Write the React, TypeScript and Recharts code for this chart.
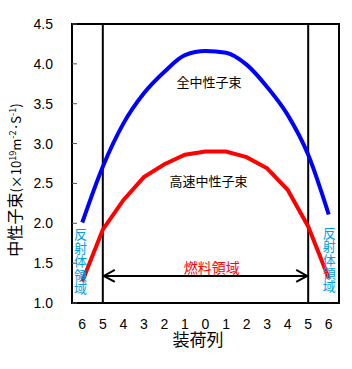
import React from "react";
import {
  LineChart,
  Line,
  XAxis,
  YAxis,
  ReferenceLine,
  ReferenceArea,
  ReferenceDot,
} from "recharts";

// loading rows, from reflector (6) through core centre (0) and back out
const positions = ["6", "5", "4", "3", "2", "1", "0", "1", "2", "3", "4", "5", "6"];
// total neutron flux (x10^19 m^-2 s^-1)
const totalFlux = [2.01, 2.71, 3.25, 3.63, 3.9, 4.11, 4.16, 4.14, 3.99, 3.71, 3.36, 2.86, 2.11];
// fast neutron flux
const fastFlux = [1.27, 1.92, 2.29, 2.58, 2.74, 2.86, 2.9, 2.9, 2.83, 2.69, 2.42, 1.96, 1.31];
const yTicks = [1.0, 1.5, 2.0, 2.5, 3.0, 3.5, 4.0, 4.5];

const data = positions.map((p, i) => ({
  idx: i,
  label: p,
  total: totalFlux[i],
  fast: fastFlux[i],
}));

const JP = "'Noto Sans CJK JP', 'Liberation Sans', sans-serif";
const NUM = "'Liberation Sans', Arial, sans-serif";
const CYAN = "#00A0E8";

const XTick = (props: any) => {
  const { x, payload } = props;
  return (
    <text x={x} y={329} textAnchor="middle" fontSize={14} fontFamily={NUM} fill="#000">
      {positions[payload.value]}
    </text>
  );
};

const YTick = (props: any) => {
  const { y, payload } = props;
  return (
    <g>
      <text x={53} y={y + 5} textAnchor="end" fontSize={14} fontFamily={NUM} fill="#000">
        {Number(payload.value).toFixed(1)}
      </text>
      <line x1={72} x2={77} y1={y} y2={y} stroke="#555" strokeWidth={1} />
    </g>
  );
};

const Arrow = (props: any) => {
  const { x1, y1, x2, y2 } = props;
  const a = Math.min(x1, x2) + 1;
  const b = Math.max(x1, x2) - 1;
  return (
    <g stroke="#000" strokeWidth={2} fill="none">
      <line x1={a} y1={y1} x2={b} y2={y2} />
      <polyline points={`${a + 11},${y1 - 6} ${a},${y1} ${a + 11},${y1 + 6}`} />
      <polyline points={`${b - 11},${y2 - 6} ${b},${y2} ${b - 11},${y2 + 6}`} />
    </g>
  );
};

const textAt =
  (text: string, color: string, size: number) =>
  (p: any) =>
    (
      <text
        x={p.cx}
        y={p.cy}
        textAnchor="middle"
        dominantBaseline="central"
        fontSize={size}
        fontFamily={JP}
        fill={color}
      >
        {text}
      </text>
    );

const verticalText = (text: string) => (p: any) =>
  (
    <text x={p.cx} y={p.cy} textAnchor="middle" fontSize={13} fontFamily={JP} fill={CYAN}>
      {text.split("").map((c, i) => (
        <tspan key={i} x={p.cx} dy={i === 0 ? 5 : 13.4}>
          {c}
        </tspan>
      ))}
    </text>
  );

const YTitle = () => (
  <text transform="rotate(-90)" x={-180} y={21} textAnchor="middle" fontFamily={JP} fill="#000">
    <tspan fontSize={16}>中性子束</tspan>
    <tspan fontSize={13}>(×10</tspan>
    <tspan fontSize={9} dy={-5}>19</tspan>
    <tspan fontSize={13} dy={5}>m</tspan>
    <tspan fontSize={9} dy={-5}>-2</tspan>
    <tspan fontSize={13} dy={5}>·S</tspan>
    <tspan fontSize={9} dy={-5}>-1</tspan>
    <tspan fontSize={13} dy={5}>)</tspan>
  </text>
);

const XTitle = () => (
  <text x={198} y={346} textAnchor="middle" fontSize={17} fontFamily={JP} fill="#000">
    装荷列
  </text>
);

export default function App() {
  return (
    <div style={{ position: "absolute", left: 0, top: 0, width: 352, height: 369, background: "#fff" }}>
      <LineChart width={352} height={369} data={data} margin={{ top: 24, right: 13, bottom: 0, left: 0 }}>
        <XAxis
          dataKey="idx"
          type="number"
          domain={[-0.5, 12.5]}
          ticks={positions.map((_, i) => i)}
          interval={0}
          height={66}
          axisLine={false}
          tickLine={false}
          tick={<XTick />}
          label={{ content: () => <XTitle /> }}
        />
        <YAxis
          type="number"
          domain={[1, 4.5]}
          ticks={yTicks}
          interval={0}
          width={72}
          axisLine={false}
          tickLine={false}
          tick={<YTick />}
          label={{ content: () => <YTitle /> }}
        />
        <ReferenceArea
          x1={-0.5}
          x2={12.5}
          y1={1}
          y2={4.5}
          fill="none"
          fillOpacity={0}
          stroke="#000"
          strokeWidth={2}
          ifOverflow="visible"
        />
        <ReferenceLine x={1} stroke="#000" strokeWidth={2} />
        <ReferenceLine x={11} stroke="#000" strokeWidth={2} />
        <ReferenceLine
          segment={[
            { x: 1, y: 1.34 },
            { x: 11, y: 1.34 },
          ]}
          shape={<Arrow />}
        />
        <Line
          type="monotone"
          dataKey="total"
          stroke="#0000FF"
          strokeWidth={4}
          dot={false}
          isAnimationActive={false}
        />
        <Line
          type="linear"
          dataKey="fast"
          stroke="#FF0000"
          strokeWidth={4}
          dot={false}
          isAnimationActive={false}
        />
        <ReferenceDot x={6.17} y={3.776} r={0} ifOverflow="visible" shape={textAt("全中性子束", "#000", 13)} />
        <ReferenceDot x={6.15} y={2.543} r={0} ifOverflow="visible" shape={textAt("高速中性子束", "#000", 13)} />
        <ReferenceDot x={6.3} y={1.451} r={0} ifOverflow="visible" shape={textAt("燃料領域", "#FF0000", 14)} />
        <ReferenceDot x={-0.08} y={1.86} r={0} ifOverflow="visible" shape={verticalText("反射体領域")} />
        <ReferenceDot x={12.03} y={1.88} r={0} ifOverflow="visible" shape={verticalText("反射体領域")} />
      </LineChart>
    </div>
  );
}
